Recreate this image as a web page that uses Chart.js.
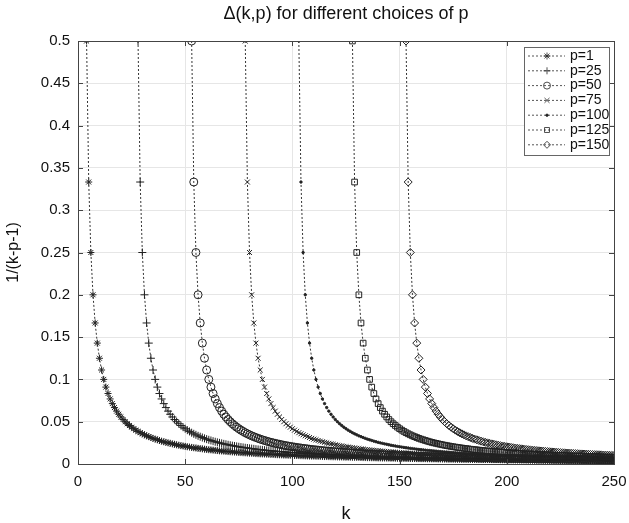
<!DOCTYPE html>
<html>
<head>
<meta charset="utf-8">
<script src="https://cdn.jsdelivr.net/npm/chart.js@4.4.0/dist/chart.umd.min.js"></script>
<style>
  html, body { margin: 0; padding: 0; background: #fff; }
  #wrap { width: 629px; height: 523px; }
</style>
</head>
<body>
<div id="wrap"><canvas id="chart" width="629" height="523"></canvas></div>
<script>
// values of p shown in the legend
const pValues = [1, 25, 50, 75, 100, 125, 150];
const seriesLabels = ['p=1', 'p=25', 'p=50', 'p=75', 'p=100', 'p=125', 'p=150'];
const kMax = 250;
// 1/(k-p-1) read for k-p-1 = 2, 3, 4, ... (same curve shape for every p)
const deltaValues = [
  0.5, 0.3333, 0.25, 0.2, 0.1667, 0.1429, 0.125, 0.1111, 0.1, 0.0909,
  0.0833, 0.0769, 0.0714, 0.0667, 0.0625, 0.0588, 0.0556, 0.0526, 0.05, 0.0476,
  0.0455, 0.0435, 0.0417, 0.04, 0.0385, 0.037, 0.0357, 0.0345, 0.0333, 0.0323,
  0.0313, 0.0303, 0.0294, 0.0286, 0.0278, 0.027, 0.0263, 0.0256, 0.025, 0.0244,
  0.0238, 0.0233, 0.0227, 0.0222, 0.0217, 0.0213, 0.0208, 0.0204, 0.02, 0.0196,
  0.0192, 0.0189, 0.0185, 0.0182, 0.0179, 0.0175, 0.0172, 0.0169, 0.0167, 0.0164,
  0.0161, 0.0159, 0.0156, 0.0154, 0.0152, 0.0149, 0.0147, 0.0145, 0.0143, 0.0141,
  0.0139, 0.0137, 0.0135, 0.0133, 0.0132, 0.013, 0.0128, 0.0127, 0.0125, 0.0123,
  0.0122, 0.012, 0.0119, 0.0118, 0.0116, 0.0115, 0.0114, 0.0112, 0.0111, 0.011,
  0.0109, 0.0108, 0.0106, 0.0105, 0.0104, 0.0103, 0.0102, 0.0101, 0.01, 0.0099,
  0.0098, 0.0097, 0.0096, 0.0095, 0.0094, 0.0093, 0.0093, 0.0092, 0.0091, 0.009,
  0.0089, 0.0088, 0.0088, 0.0087, 0.0086, 0.0085, 0.0085, 0.0084, 0.0083, 0.0083,
  0.0082, 0.0081, 0.0081, 0.008, 0.0079, 0.0079, 0.0078, 0.0078, 0.0077, 0.0076,
  0.0076, 0.0075, 0.0075, 0.0074, 0.0074, 0.0073, 0.0072, 0.0072, 0.0071, 0.0071,
  0.007, 0.007, 0.0069, 0.0069, 0.0068, 0.0068, 0.0068, 0.0067, 0.0067, 0.0066,
  0.0066, 0.0065, 0.0065, 0.0065, 0.0064, 0.0064, 0.0063, 0.0063, 0.0063, 0.0062,
  0.0062, 0.0061, 0.0061, 0.0061, 0.006, 0.006, 0.006, 0.0059, 0.0059, 0.0058,
  0.0058, 0.0058, 0.0057, 0.0057, 0.0057, 0.0056, 0.0056, 0.0056, 0.0056, 0.0055,
  0.0055, 0.0055, 0.0054, 0.0054, 0.0054, 0.0053, 0.0053, 0.0053, 0.0053, 0.0052,
  0.0052, 0.0052, 0.0052, 0.0051, 0.0051, 0.0051, 0.0051, 0.005, 0.005, 0.005,
  0.005, 0.0049, 0.0049, 0.0049, 0.0049, 0.0048, 0.0048, 0.0048, 0.0048, 0.0047,
  0.0047, 0.0047, 0.0047, 0.0047, 0.0046, 0.0046, 0.0046, 0.0046, 0.0045, 0.0045,
  0.0045, 0.0045, 0.0045, 0.0044, 0.0044, 0.0044, 0.0044, 0.0044, 0.0043, 0.0043,
  0.0043, 0.0043, 0.0043, 0.0043, 0.0042, 0.0042, 0.0042, 0.0042, 0.0042, 0.0041,
  0.0041, 0.0041, 0.0041, 0.0041, 0.0041, 0.004, 0.004
];
const xTicks = [0, 50, 100, 150, 200, 250];
const yTicks = [0, 0.05, 0.1, 0.15, 0.2, 0.25, 0.3, 0.35, 0.4, 0.45, 0.5];

// marker look per series (matlab-ish: * + o x . square diamond)
const markers = [
  { style: 'star', radius: 3.5, fill: true },
  { style: 'cross', radius: 4, fill: false },
  { style: 'circle', radius: 4, fill: false },
  { style: 'crossRot', radius: 3.5, fill: false },
  { style: 'circle', radius: 1.2, fill: true },
  { style: 'rect', radius: 4, fill: false },
  { style: 'rectRot', radius: 4, fill: false }
];
const ink = '#222';
const font = "'Liberation Sans', Arial, sans-serif";

const datasets = pValues.map((p, i) => ({
  label: seriesLabels[i],
  data: deltaValues.slice(0, kMax - p - 2).map((y, j) => ({ x: p + 3 + j, y: y })),
  borderColor: '#333',
  borderWidth: 1,
  borderDash: [2, 2],
  pointStyle: markers[i].style,
  pointRadius: markers[i].radius,
  pointBorderColor: ink,
  pointBorderWidth: 1,
  pointBackgroundColor: markers[i].fill ? ink : 'rgba(0,0,0,0)',
  tension: 0,
  fill: false
}));

// box frame with inward tick marks + legend inside the plot
const framePlugin = {
  id: 'frame',
  afterDraw(chart) {
    const { ctx, chartArea: a, scales } = chart;
    ctx.save();
    ctx.strokeStyle = '#444';
    ctx.lineWidth = 1;
    ctx.setLineDash([]);
    ctx.strokeRect(a.left + 0.5, a.top + 0.5, a.right - a.left, a.bottom - a.top);
    ctx.beginPath();
    xTicks.forEach(v => {
      const x = Math.round(scales.x.getPixelForValue(v)) + 0.5;
      ctx.moveTo(x, a.bottom); ctx.lineTo(x, a.bottom - 5);
      ctx.moveTo(x, a.top); ctx.lineTo(x, a.top + 5);
    });
    yTicks.forEach(v => {
      const y = Math.round(scales.y.getPixelForValue(v)) + 0.5;
      ctx.moveTo(a.left, y); ctx.lineTo(a.left + 5, y);
      ctx.moveTo(a.right, y); ctx.lineTo(a.right - 5, y);
    });
    ctx.stroke();

    // legend
    const bx = 524, by = 47, bw = 85, bh = 108;
    ctx.fillStyle = '#fff';
    ctx.fillRect(bx, by, bw, bh);
    ctx.strokeStyle = '#666';
    ctx.strokeRect(bx + 0.5, by + 0.5, bw, bh);
    chart.data.datasets.forEach((ds, i) => {
      const y = 56 + i * 14.8;
      ctx.strokeStyle = '#555';
      ctx.lineWidth = 1;
      ctx.setLineDash([2, 2]);
      ctx.beginPath();
      ctx.moveTo(528, y); ctx.lineTo(565, y);
      ctx.stroke();
      ctx.setLineDash([]);
      ctx.strokeStyle = ink;
      ctx.lineWidth = 0.8;
      ctx.fillStyle = ds.pointBackgroundColor;
      Chart.helpers.drawPoint(ctx, { pointStyle: ds.pointStyle, radius: Math.min(ds.pointRadius, 3.5), borderWidth: 0.8, rotation: 0 }, 547, y);
      ctx.fillStyle = '#111';
      ctx.font = '14px ' + font;
      ctx.textBaseline = 'middle';
      ctx.textAlign = 'left';
      ctx.fillText(ds.label, 570, y);
    });
    ctx.restore();
  }
};

new Chart(document.getElementById('chart'), {
  type: 'line',
  data: { datasets: datasets },
  options: {
    responsive: false,
    animation: false,
    layout: { padding: { left: 0, right: 15, top: 0, bottom: 0 } },
    plugins: {
      legend: { display: false },
      tooltip: { enabled: false },
      title: {
        display: true,
        fullSize: false,
        text: '\u0394(k,p) for different choices of p',
        color: '#111',
        font: { family: font, size: 18, weight: 'normal' },
        padding: { top: 3, bottom: 16.4 }
      }
    },
    scales: {
      x: {
        type: 'linear',
        min: 0,
        max: kMax,
        afterFit: s => { s.height = 59; s.paddingLeft = 0; s.paddingRight = 0; },
        afterBuildTicks: s => { s.ticks = xTicks.map(v => ({ value: v })); },
        grid: { color: '#e6e6e6', drawTicks: false },
        border: { display: false },
        ticks: { color: '#111', font: { family: font, size: 15 }, padding: 9, maxRotation: 0 },
        title: { display: true, text: 'k', color: '#111', font: { family: font, size: 18 }, padding: { top: 4, bottom: -2 } }
      },
      y: {
        type: 'linear',
        min: 0,
        max: 0.5,
        afterFit: s => { s.width = 78; s.paddingTop = 0; s.paddingBottom = 0; },
        afterBuildTicks: s => { s.ticks = yTicks.map(v => ({ value: v })); },
        grid: { color: '#e6e6e6', drawTicks: false },
        border: { display: false },
        ticks: { color: '#111', font: { family: font, size: 15 }, padding: 8, callback: v => String(+v.toFixed(2)) },
        title: { display: true, text: '1/(k-p-1)', color: '#111', font: { family: font, size: 16 }, padding: { top: 4, bottom: 0 } }
      }
    }
  },
  plugins: [framePlugin]
});
</script>
</body>
</html>
